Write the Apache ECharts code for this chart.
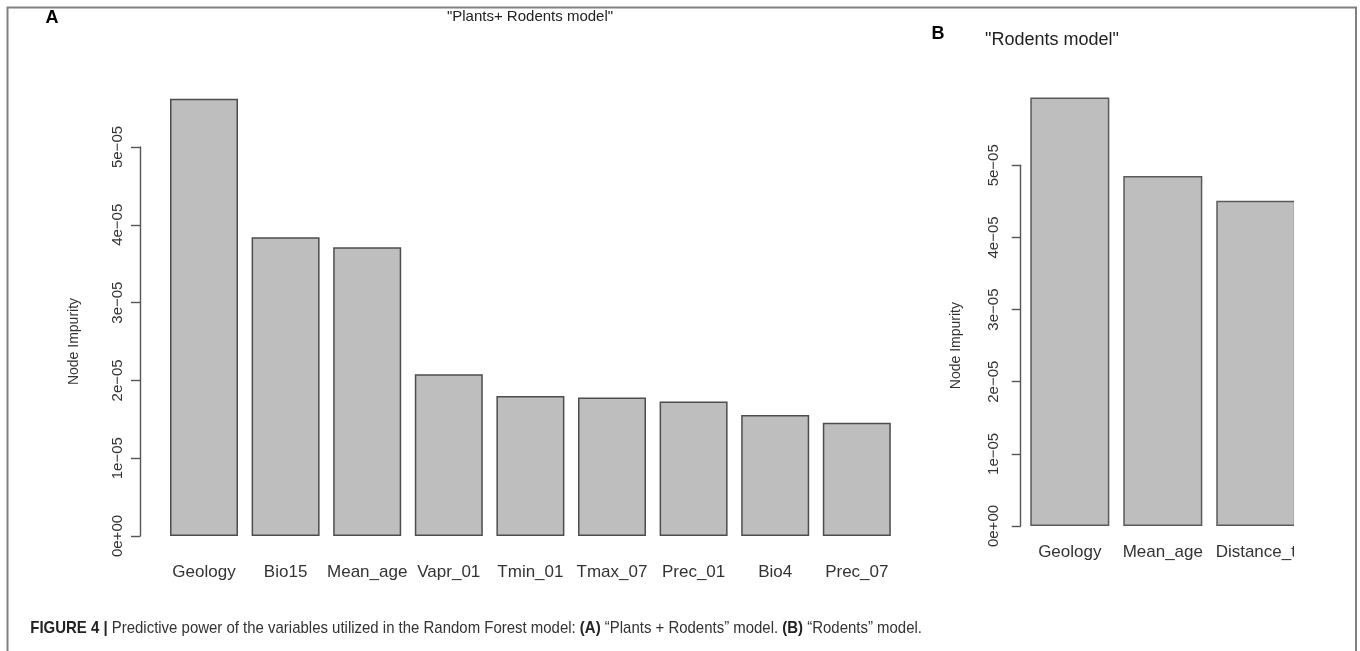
<!DOCTYPE html>
<html><head><meta charset="utf-8">
<script src="https://cdn.jsdelivr.net/npm/echarts@6/dist/echarts.min.js"></script>
<style>html,body{margin:0;padding:0;background:#fff}#c{width:1360px;height:651px}</style>
</head><body><div id="c"></div>
<script>
// ---- data ----
const catsA = ['Geology','Bio15','Mean_age','Vapr_01','Tmin_01','Tmax_07','Prec_01','Bio4','Prec_07'];
const valsA = [5.62e-5, 3.84e-5, 3.71e-5, 2.08e-5, 1.80e-5, 1.78e-5, 1.73e-5, 1.555e-5, 1.456e-5];
const catsB = ['Geology','Mean_age','Distance_t'];
const valsB = [5.94e-5, 4.85e-5, 4.51e-5];
const yTickValues = [0, 1e-5, 2e-5, 3e-5, 4e-5, 5e-5];
const yTickLabels = ['0e+00','1e\u221205','2e\u221205','3e\u221205','4e\u221205','5e\u221205'];
const titleA = '"Plants+ Rodents model"';
const titleB = '"Rodents model"';
const yName = 'Node Impurity';

const FONT = 'Liberation Sans, Arial, Helvetica, sans-serif';
function fmt(v){ const i = yTickValues.findIndex(t => Math.abs(t - v) < 1e-12); return i >= 0 ? yTickLabels[i] : ''; }

const chart = echarts.init(document.getElementById('c'), null, {renderer:'canvas'});

function valueAxisVisible(gridIndex, margin, nameGap){
  return {
    type:'value', gridIndex, min:0, max:5e-5, interval:1e-5,
    splitLine:{show:false},
    axisLine:{show:true, lineStyle:{color:'#555', width:1.4}},
    axisTick:{show:true, length:9, lineStyle:{color:'#555', width:1.4}},
    axisLabel:{rotate:90, margin, color:'#333', fontSize:15, fontFamily:FONT, formatter:fmt},
    name:yName, nameLocation:'middle', nameRotate:90, nameGap,
    nameTextStyle:{color:'#333', fontSize:14, fontFamily:FONT}
  };
}
function hiddenValueAxis(gridIndex){
  return {type:'value', gridIndex, min:0, max:6e-5, show:false, splitLine:{show:false}};
}
function catAxis(gridIndex, data, margin){
  return {type:'category', gridIndex, data, axisLine:{show:false}, axisTick:{show:false},
    axisLabel:{margin, color:'#333', fontSize:17, fontFamily:FONT, interval:0}};
}

const option = {
  animation:false,
  backgroundColor:'#fff',
  grid:[
    // A bars: 0 at y=536, 1e-5 = 77.8 px
    {left:163.2, width:734.4, top:536-6*77.8, height:6*77.8},
    // A axis
    {left:140, width:700, top:536-5*77.8, height:5*77.8},
    // B bars: 0 at y=526, 1e-5 = 72.14 px
    {left:1023.3, width:279, top:526-6*72.14, height:6*72.14},
    // B axis
    {left:1020.7, width:270, top:526-5*72.14, height:5*72.14}
  ],
  xAxis:[
    catAxis(0, catsA, 28),
    {type:'value', gridIndex:1, show:false},
    catAxis(2, catsB, 18),
    {type:'value', gridIndex:3, show:false}
  ],
  yAxis:[
    hiddenValueAxis(0),
    valueAxisVisible(1, 15, 59),
    hiddenValueAxis(2),
    valueAxisVisible(3, 19, 58)
  ],
  series:[
    {type:'bar', xAxisIndex:0, yAxisIndex:0, data:valsA, barWidth:'83.33%',
     itemStyle:{color:'#bebebe', borderColor:'#4d4d4d', borderWidth:1.5}},
    {type:'bar', xAxisIndex:2, yAxisIndex:2, data:valsB, barWidth:'85%',
     itemStyle:{color:'#bebebe', borderColor:'#5a5a5a', borderWidth:1.5}},
    {type:'line', xAxisIndex:1, yAxisIndex:1, data:[], silent:true},
    {type:'line', xAxisIndex:3, yAxisIndex:3, data:[], silent:true}
  ],
  graphic:[
    {type:'rect', z:100, shape:{x:1294, y:60, width:59, height:530}, style:{fill:'#fff'}},
    {type:'rect', z:101, shape:{x:7.5, y:7.5, width:1348.5, height:700}, style:{fill:'none', stroke:'#808080', lineWidth:2}},
    {type:'text', z:101, x:52, y:18, style:{text:'A', font:'bold 18px ' + FONT, fill:'#000', align:'center', verticalAlign:'middle'}},
    {type:'text', z:101, x:938, y:34, style:{text:'B', font:'bold 18px ' + FONT, fill:'#000', align:'center', verticalAlign:'middle'}},
    {type:'text', z:101, x:530, y:17, style:{text:titleA, font:'15px ' + FONT, fill:'#222', align:'center', verticalAlign:'middle'}},
    {type:'text', z:101, x:1052, y:40, style:{text:titleB, font:'18px ' + FONT, fill:'#222', align:'center', verticalAlign:'middle'}},
    {type:'text', z:101, x:27, y:628, scaleX:0.88, originX:27,
     style:{text:'{b|FIGURE 4 |} Predictive power of the variables utilized in the Random Forest model: {b|(A)} \u201cPlants + Rodents\u201d model. {b|(B)} \u201cRodents\u201d model.',
       font:'17px ' + FONT, fill:'#333', verticalAlign:'middle',
       rich:{b:{font:'bold 17px ' + FONT, fill:'#222'}}}}
  ]
};
chart.setOption(option);
</script>
</body></html>
